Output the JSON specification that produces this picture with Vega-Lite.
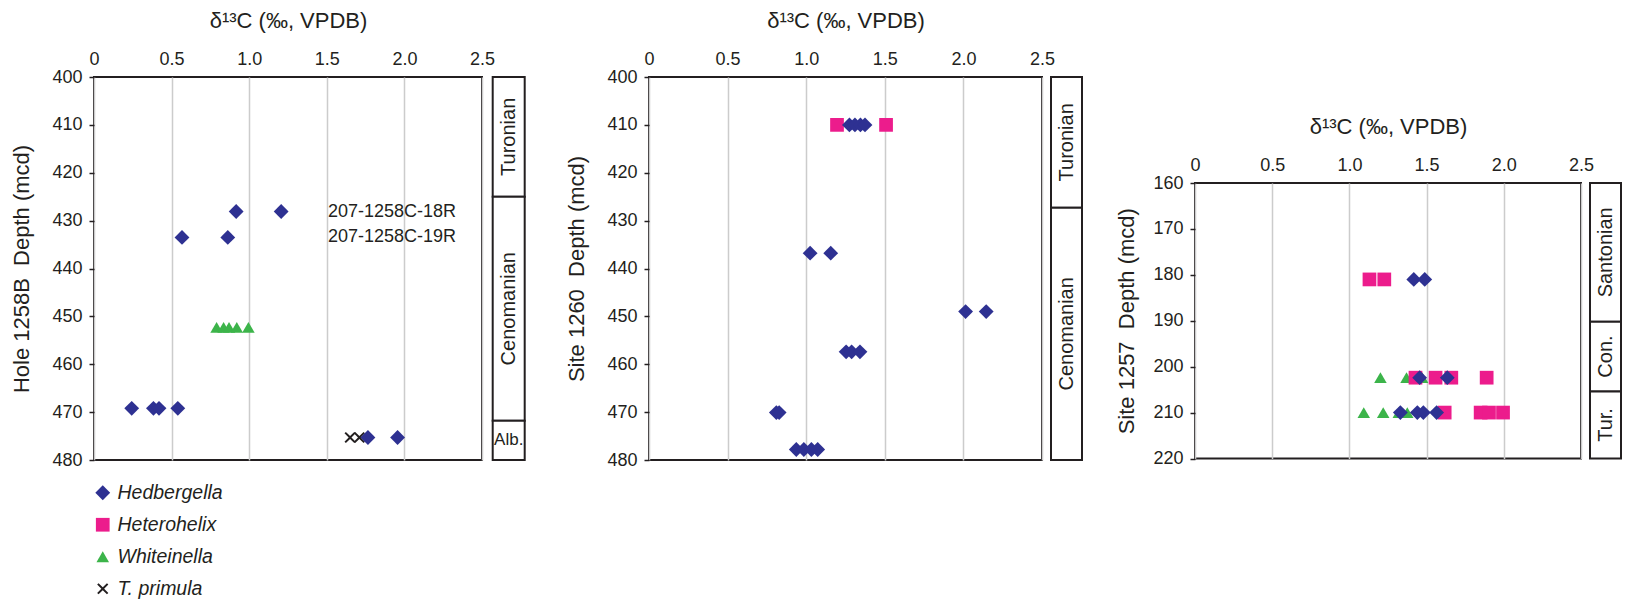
{
  "$schema": "https://vega.github.io/schema/vega-lite/v6.json",
  "padding": {"left": 9, "top": 8, "right": 0, "bottom": 0},
  "config": {
    "font": "Liberation Sans",
    "view": {"stroke": "#231f20", "strokeWidth": 2},
    "axis": {"labelFontSize": 18, "labelColor": "#231f20", "titleFontSize": 22, "titleFontWeight": "normal", "titleColor": "#231f20", "tickColor": "#231f20", "domain": false, "labelOverlap": false},
    "axisX": {"grid": true, "gridColor": "#cccccc", "gridWidth": 1.5, "ticks": false, "labelPadding": 9, "titlePadding": 18, "labelFlush": false},
    "axisY": {"grid": false, "tickSize": 5, "tickWidth": 1.5, "labelPadding": 7, "titlePadding": 18}
  },
  "datasets": {
    "p1": [
      {"species": "Whiteinella", "d13C": 0.79, "depth": 452.3},
      {"species": "Whiteinella", "d13C": 0.835, "depth": 452.3},
      {"species": "Whiteinella", "d13C": 0.87, "depth": 452.3},
      {"species": "Whiteinella", "d13C": 0.92, "depth": 452.3},
      {"species": "Whiteinella", "d13C": 0.995, "depth": 452.3},
      {"species": "T. primula", "d13C": 1.65, "depth": 475.3},
      {"species": "T. primula", "d13C": 1.71, "depth": 475.3},
      {"species": "Hedbergella", "d13C": 0.916, "depth": 428.1},
      {"species": "Hedbergella", "d13C": 1.206, "depth": 428.1},
      {"species": "Hedbergella", "d13C": 0.567, "depth": 433.5},
      {"species": "Hedbergella", "d13C": 0.862, "depth": 433.5},
      {"species": "Hedbergella", "d13C": 0.243, "depth": 469.2},
      {"species": "Hedbergella", "d13C": 0.383, "depth": 469.2},
      {"species": "Hedbergella", "d13C": 0.419, "depth": 469.2},
      {"species": "Hedbergella", "d13C": 0.54, "depth": 469.2},
      {"species": "Hedbergella", "d13C": 1.765, "depth": 475.3},
      {"species": "Hedbergella", "d13C": 1.956, "depth": 475.3}
    ],
    "p1labels": [
      {"label": "207-1258C-18R", "d13C": 1.507, "depth": 428.1},
      {"label": "207-1258C-19R", "d13C": 1.507, "depth": 433.5}
    ],
    "p2": [
      {"species": "Heterohelix", "d13C": 1.196, "depth": 410},
      {"species": "Heterohelix", "d13C": 1.508, "depth": 410},
      {"species": "Hedbergella", "d13C": 1.275, "depth": 410},
      {"species": "Hedbergella", "d13C": 1.31, "depth": 410},
      {"species": "Hedbergella", "d13C": 1.345, "depth": 410},
      {"species": "Hedbergella", "d13C": 1.374, "depth": 410},
      {"species": "Hedbergella", "d13C": 1.025, "depth": 436.8},
      {"species": "Hedbergella", "d13C": 1.156, "depth": 436.8},
      {"species": "Hedbergella", "d13C": 2.014, "depth": 449},
      {"species": "Hedbergella", "d13C": 2.145, "depth": 449},
      {"species": "Hedbergella", "d13C": 1.254, "depth": 457.4},
      {"species": "Hedbergella", "d13C": 1.289, "depth": 457.4},
      {"species": "Hedbergella", "d13C": 1.342, "depth": 457.4},
      {"species": "Hedbergella", "d13C": 0.81, "depth": 470.1},
      {"species": "Hedbergella", "d13C": 0.828, "depth": 470.1},
      {"species": "Hedbergella", "d13C": 0.937, "depth": 477.8},
      {"species": "Hedbergella", "d13C": 0.985, "depth": 477.8},
      {"species": "Hedbergella", "d13C": 1.033, "depth": 477.8},
      {"species": "Hedbergella", "d13C": 1.073, "depth": 477.8}
    ],
    "p3": [
      {"species": "Whiteinella", "d13C": 1.201, "depth": 202.4},
      {"species": "Whiteinella", "d13C": 1.37, "depth": 202.4},
      {"species": "Whiteinella", "d13C": 1.471, "depth": 202.4},
      {"species": "Whiteinella", "d13C": 1.093, "depth": 210},
      {"species": "Whiteinella", "d13C": 1.219, "depth": 210},
      {"species": "Whiteinella", "d13C": 1.32, "depth": 210},
      {"species": "Whiteinella", "d13C": 1.375, "depth": 210},
      {"species": "Heterohelix", "d13C": 1.13, "depth": 181},
      {"species": "Heterohelix", "d13C": 1.226, "depth": 181},
      {"species": "Heterohelix", "d13C": 1.428, "depth": 202.4},
      {"species": "Heterohelix", "d13C": 1.558, "depth": 202.4},
      {"species": "Heterohelix", "d13C": 1.66, "depth": 202.4},
      {"species": "Heterohelix", "d13C": 1.889, "depth": 202.4},
      {"species": "Heterohelix", "d13C": 1.617, "depth": 210},
      {"species": "Heterohelix", "d13C": 1.85, "depth": 210},
      {"species": "Heterohelix", "d13C": 1.904, "depth": 210},
      {"species": "Heterohelix", "d13C": 1.995, "depth": 210},
      {"species": "Hedbergella", "d13C": 1.417, "depth": 181},
      {"species": "Hedbergella", "d13C": 1.488, "depth": 181},
      {"species": "Hedbergella", "d13C": 1.455, "depth": 202.4},
      {"species": "Hedbergella", "d13C": 1.634, "depth": 202.4},
      {"species": "Hedbergella", "d13C": 1.33, "depth": 210},
      {"species": "Hedbergella", "d13C": 1.44, "depth": 210},
      {"species": "Hedbergella", "d13C": 1.479, "depth": 210},
      {"species": "Hedbergella", "d13C": 1.565, "depth": 210}
    ],
    "s1": [
      {"stage": "Turonian", "top": 400, "bottom": 425},
      {"stage": "Cenomanian", "top": 425, "bottom": 471.8},
      {"stage": "Alb.", "top": 471.8, "bottom": 480}
    ],
    "s2": [
      {"stage": "Turonian", "top": 400, "bottom": 427.3},
      {"stage": "Cenomanian", "top": 427.3, "bottom": 480}
    ],
    "s3": [
      {"stage": "Santonian", "top": 160, "bottom": 190.2},
      {"stage": "Con.", "top": 190.2, "bottom": 205.4},
      {"stage": "Tur.", "top": 205.4, "bottom": 220}
    ]
  },
  "hconcat": [
    {
      "hconcat": [
        {
          "width": 388, "height": 383,
          "layer": [
            {
              "data": {"name": "p1"},
              "mark": {"type": "point", "filled": true, "opacity": 1},
              "encoding": {
                "x": {"field": "d13C", "type": "quantitative", "scale": {"domain": [0, 2.5], "nice": false, "zero": false}, "axis": {"orient": "top", "title": "δ¹³C (‰, VPDB)", "values": [0, 0.5, 1, 1.5, 2, 2.5], "labelExpr": "datum.value == 0 ? '0' : format(datum.value, '.1f')"}},
                "y": {"field": "depth", "type": "quantitative", "scale": {"domain": [400, 480], "reverse": true, "nice": false, "zero": false}, "axis": {"title": "Hole 1258B\u00a0\u00a0Depth (mcd)", "values": [400, 410, 420, 430, 440, 450, 460, 470, 480]}},
                "color": {"field": "species", "type": "nominal", "scale": {"domain": ["Hedbergella", "Heterohelix", "Whiteinella", "T. primula"], "range": ["#2e3192", "#ec1c8c", "#3cb44a", "#231f20"]}, "legend": {"orient": "none", "legendX": -1, "legendY": 406, "title": null, "labelFontSize": 19.5, "labelFontStyle": "italic", "labelColor": "#231f20", "symbolSize": 100, "rowPadding": 11, "labelOffset": 5, "padding": 0}},
                "shape": {"field": "species", "type": "nominal", "scale": {"domain": ["Hedbergella", "Heterohelix", "Whiteinella", "T. primula"], "range": ["diamond", "square", "triangle-up", "M-1,-0.75L-0.75,-1L0,-0.25L0.75,-1L1,-0.75L0.25,0L1,0.75L0.75,1L0,0.25L-0.75,1L-1,0.75L-0.25,0Z"]}, "legend": {"orient": "none", "legendX": -1, "legendY": 406, "title": null, "labelFontSize": 19.5, "labelFontStyle": "italic", "labelColor": "#231f20", "symbolSize": 100, "rowPadding": 11, "labelOffset": 5, "padding": 0}},
                "size": {"field": "species", "type": "nominal", "scale": {"domain": ["Hedbergella", "Heterohelix", "Whiteinella", "T. primula"], "range": [220, 125, 250, 140]}, "legend": null}
              }
            },
            {
              "data": {"name": "p1labels"},
              "mark": {"type": "text", "align": "left", "baseline": "middle", "fontSize": 18, "color": "#231f20"},
              "encoding": {
                "x": {"field": "d13C", "type": "quantitative"},
                "y": {"field": "depth", "type": "quantitative"},
                "text": {"field": "label"}
              }
            }
          ]
        },
        {
          "width": 32, "height": 383,
          "data": {"name": "s1"},
          "view": {"stroke": null},
          "layer": [
            {
              "mark": {"type": "rect", "fill": "white", "stroke": "#231f20", "strokeWidth": 2},
              "encoding": {
                "y": {"field": "top", "type": "quantitative", "scale": {"domain": [400, 480], "reverse": true, "nice": false, "zero": false}, "axis": null},
                "y2": {"field": "bottom"},
                "x": {"datum": 0, "type": "quantitative", "scale": {"domain": [0, 1]}, "axis": null},
                "x2": {"datum": 1}
              }
            },
            {
              "transform": [{"filter": "datum.stage !== 'Alb.'"}, {"fold": ["top", "bottom"], "as": ["edge", "depth"]}],
              "mark": {"type": "text", "angle": 270, "align": "center", "baseline": "middle", "fontSize": 20, "color": "#231f20"},
              "encoding": {
                "y": {"field": "depth", "aggregate": "mean", "type": "quantitative"},
                "x": {"datum": 0.5, "type": "quantitative"},
                "text": {"field": "stage"}
              }
            },
            {
              "transform": [{"filter": "datum.stage === 'Alb.'"}, {"fold": ["top", "bottom"], "as": ["edge", "depth"]}],
              "mark": {"type": "text", "align": "center", "baseline": "middle", "fontSize": 17, "color": "#231f20"},
              "encoding": {
                "y": {"field": "depth", "aggregate": "mean", "type": "quantitative"},
                "x": {"datum": 0.5, "type": "quantitative"},
                "text": {"field": "stage"}
              }
            }
          ]
        }
      ],
      "spacing": 10.7,
      "bounds": "flush"
    },
    {
      "hconcat": [
        {
          "hconcat": [
            {
              "width": 393, "height": 383,
              "data": {"name": "p2"},
              "mark": {"type": "point", "filled": true, "opacity": 1},
              "encoding": {
                "x": {"field": "d13C", "type": "quantitative", "scale": {"domain": [0, 2.5], "nice": false, "zero": false}, "axis": {"orient": "top", "title": "δ¹³C (‰, VPDB)", "values": [0, 0.5, 1, 1.5, 2, 2.5], "labelExpr": "datum.value == 0 ? '0' : format(datum.value, '.1f')"}},
                "y": {"field": "depth", "type": "quantitative", "scale": {"domain": [400, 480], "reverse": true, "nice": false, "zero": false}, "axis": {"title": "Site 1260\u00a0\u00a0Depth (mcd)", "values": [400, 410, 420, 430, 440, 450, 460, 470, 480]}},
                "color": {"field": "species", "type": "nominal", "scale": {"domain": ["Hedbergella", "Heterohelix", "Whiteinella", "T. primula"], "range": ["#2e3192", "#ec1c8c", "#3cb44a", "#231f20"]}, "legend": {"orient": "none", "legendX": -1, "legendY": 406, "title": null, "labelFontSize": 19.5, "labelFontStyle": "italic", "labelColor": "#231f20", "symbolSize": 100, "rowPadding": 11, "labelOffset": 5, "padding": 0}},
                "shape": {"field": "species", "type": "nominal", "scale": {"domain": ["Hedbergella", "Heterohelix", "Whiteinella", "T. primula"], "range": ["diamond", "square", "triangle-up", "M-1,-0.75L-0.75,-1L0,-0.25L0.75,-1L1,-0.75L0.25,0L1,0.75L0.75,1L0,0.25L-0.75,1L-1,0.75L-0.25,0Z"]}, "legend": {"orient": "none", "legendX": -1, "legendY": 406, "title": null, "labelFontSize": 19.5, "labelFontStyle": "italic", "labelColor": "#231f20", "symbolSize": 100, "rowPadding": 11, "labelOffset": 5, "padding": 0}},
                "size": {"field": "species", "type": "nominal", "scale": {"domain": ["Hedbergella", "Heterohelix", "Whiteinella", "T. primula"], "range": [220, 125, 250, 140]}, "legend": null}
              }
            },
            {
              "width": 31, "height": 383,
              "data": {"name": "s2"},
              "view": {"stroke": null},
              "layer": [
                {
                  "mark": {"type": "rect", "fill": "white", "stroke": "#231f20", "strokeWidth": 2},
                  "encoding": {
                    "y": {"field": "top", "type": "quantitative", "scale": {"domain": [400, 480], "reverse": true, "nice": false, "zero": false}, "axis": null},
                    "y2": {"field": "bottom"},
                    "x": {"datum": 0, "type": "quantitative", "scale": {"domain": [0, 1]}, "axis": null},
                    "x2": {"datum": 1}
                  }
                },
                {
                  "transform": [{"fold": ["top", "bottom"], "as": ["edge", "depth"]}],
                  "mark": {"type": "text", "angle": 270, "align": "center", "baseline": "middle", "fontSize": 20, "color": "#231f20"},
                  "encoding": {
                    "y": {"field": "depth", "aggregate": "mean", "type": "quantitative"},
                    "x": {"datum": 0.5, "type": "quantitative"},
                    "text": {"field": "stage"}
                  }
                }
              ]
            }
          ],
          "spacing": 9,
          "bounds": "flush"
        },
        {
          "vconcat": [
            {
              "width": 20, "height": 35.7,
              "data": {"values": [{"stage": "none"}]},
              "view": {"stroke": "white", "fill": "white"},
              "mark": {"type": "text", "opacity": 0},
              "encoding": {"text": {"field": "stage"}}
            },
            {
              "hconcat": [
                {
                  "width": 386, "height": 275.5,
                  "data": {"name": "p3"},
                  "mark": {"type": "point", "filled": true, "opacity": 1},
                  "encoding": {
                    "x": {"field": "d13C", "type": "quantitative", "scale": {"domain": [0, 2.5], "nice": false, "zero": false}, "axis": {"orient": "top", "title": "δ¹³C (‰, VPDB)", "values": [0, 0.5, 1, 1.5, 2, 2.5], "labelExpr": "datum.value == 0 ? '0' : format(datum.value, '.1f')"}},
                    "y": {"field": "depth", "type": "quantitative", "scale": {"domain": [160, 220], "reverse": true, "nice": false, "zero": false}, "axis": {"title": "Site 1257\u00a0\u00a0Depth (mcd)", "values": [160, 170, 180, 190, 200, 210, 220], "titlePadding": 14}},
                    "color": {"field": "species", "type": "nominal", "scale": {"domain": ["Hedbergella", "Heterohelix", "Whiteinella", "T. primula"], "range": ["#2e3192", "#ec1c8c", "#3cb44a", "#231f20"]}, "legend": {"orient": "none", "legendX": -1, "legendY": 406, "title": null, "labelFontSize": 19.5, "labelFontStyle": "italic", "labelColor": "#231f20", "symbolSize": 100, "rowPadding": 11, "labelOffset": 5, "padding": 0}},
                    "shape": {"field": "species", "type": "nominal", "scale": {"domain": ["Hedbergella", "Heterohelix", "Whiteinella", "T. primula"], "range": ["diamond", "square", "triangle-up", "M-1,-0.75L-0.75,-1L0,-0.25L0.75,-1L1,-0.75L0.25,0L1,0.75L0.75,1L0,0.25L-0.75,1L-1,0.75L-0.25,0Z"]}, "legend": {"orient": "none", "legendX": -1, "legendY": 406, "title": null, "labelFontSize": 19.5, "labelFontStyle": "italic", "labelColor": "#231f20", "symbolSize": 100, "rowPadding": 11, "labelOffset": 5, "padding": 0}},
                    "size": {"field": "species", "type": "nominal", "scale": {"domain": ["Hedbergella", "Heterohelix", "Whiteinella", "T. primula"], "range": [220, 125, 250, 140]}, "legend": null}
                  }
                },
                {
                  "width": 31, "height": 275.5,
                  "data": {"name": "s3"},
                  "view": {"stroke": null},
                  "layer": [
                    {
                      "mark": {"type": "rect", "fill": "white", "stroke": "#231f20", "strokeWidth": 2},
                      "encoding": {
                        "y": {"field": "top", "type": "quantitative", "scale": {"domain": [160, 220], "reverse": true, "nice": false, "zero": false}, "axis": null},
                        "y2": {"field": "bottom"},
                        "x": {"datum": 0, "type": "quantitative", "scale": {"domain": [0, 1]}, "axis": null},
                        "x2": {"datum": 1}
                      }
                    },
                    {
                      "transform": [{"fold": ["top", "bottom"], "as": ["edge", "depth"]}],
                      "mark": {"type": "text", "angle": 270, "align": "center", "baseline": "middle", "fontSize": 20, "color": "#231f20"},
                      "encoding": {
                        "y": {"field": "depth", "aggregate": "mean", "type": "quantitative"},
                        "x": {"datum": 0.5, "type": "quantitative"},
                        "text": {"field": "stage"}
                      }
                    }
                  ]
                }
              ],
              "spacing": 9,
              "bounds": "flush"
            }
          ],
          "spacing": 0
        }
      ],
      "spacing": 31
    }
  ],
  "spacing": 38
}
